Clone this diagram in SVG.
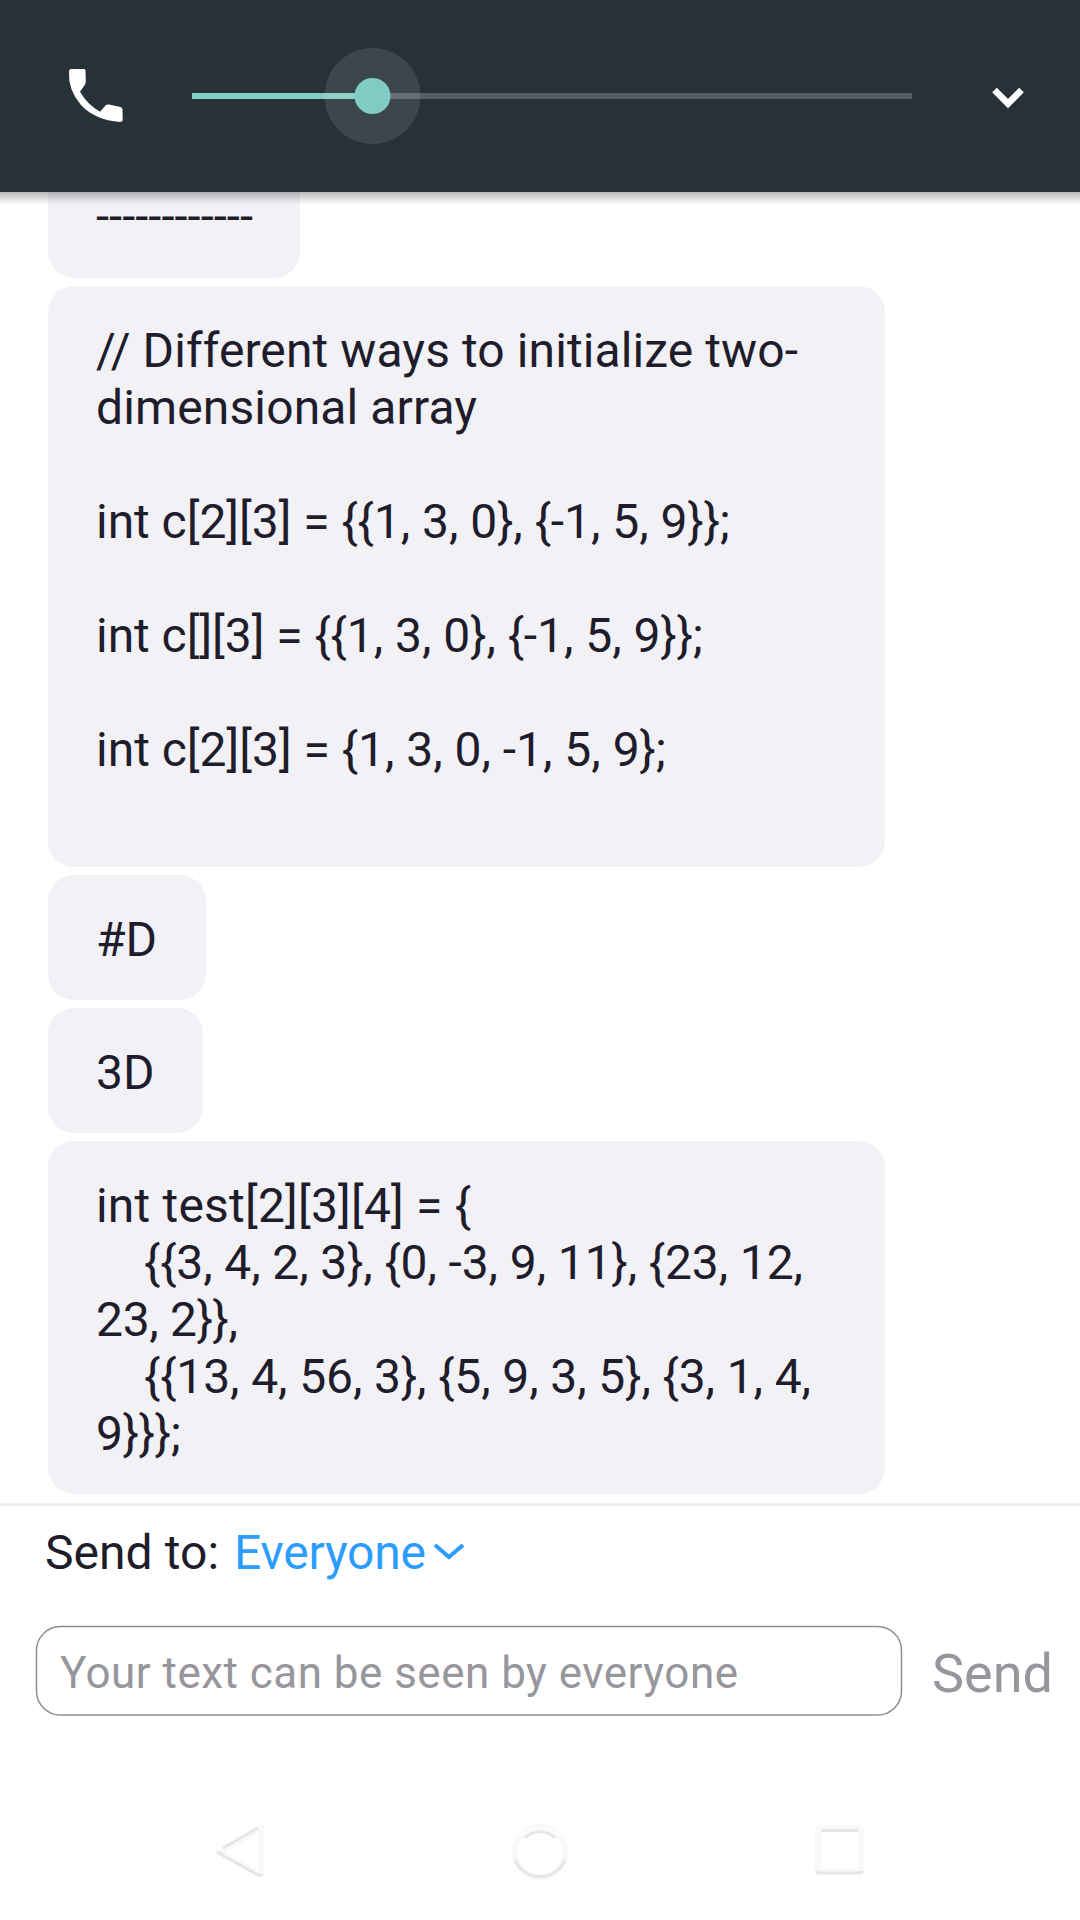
<svg xmlns="http://www.w3.org/2000/svg" width="1080" height="1920" viewBox="0 0 1080 1920">
<defs>
<linearGradient id="sh" x1="0" y1="0" x2="0" y2="1"><stop offset="0" stop-color="#000" stop-opacity=".28"/><stop offset="1" stop-color="#000" stop-opacity="0"/></linearGradient>
<filter id="soft" x="-10%" y="-10%" width="120%" height="120%"><feGaussianBlur stdDeviation="0.7"/></filter>
</defs>
<style>
.b{fill:#f2f1f6}
.t{font-family:Roboto,"Liberation Sans",sans-serif;font-size:48px;fill:#1f1d2b}
.u{font-family:Roboto,"Liberation Sans",sans-serif}
.f{fill:none;stroke:#f9f9f9;stroke-width:6}
.e{fill:none;stroke:#e6e6e8;stroke-width:3}
</style>
<rect width="1080" height="1920" fill="#fff"/>
<g id="bubble-1"><rect class="b" x="48" y="150" width="252" height="128" rx="26"/><text class="t" x="96" y="233" textLength="157" lengthAdjust="spacingAndGlyphs">------------</text></g>
<g id="bubble-2"><rect class="b" x="48" y="286" width="837" height="581" rx="26"/>
<text class="t" x="96" y="367" textLength="702">// Different ways to initialize two-</text>
<text class="t" x="96" y="424" textLength="381">dimensional array</text>
<text class="t" x="96" y="538" textLength="634">int c[2][3] = {{1, 3, 0}, {-1, 5, 9}};</text>
<text class="t" x="96" y="652" textLength="607">int c[][3] = {{1, 3, 0}, {-1, 5, 9}};</text>
<text class="t" x="96" y="766" textLength="570">int c[2][3] = {1, 3, 0, -1, 5, 9};</text></g>
<g id="bubble-3"><rect class="b" x="48" y="875" width="158" height="125" rx="26"/><text class="t" x="96" y="956">#D</text></g>
<g id="bubble-4"><rect class="b" x="48" y="1008" width="155" height="125" rx="26"/><text class="t" x="96" y="1089">3D</text></g>
<g id="bubble-5"><rect class="b" x="48" y="1141" width="837" height="353" rx="26"/>
<text class="t" x="96" y="1222" textLength="375">int test[2][3][4] = {</text>
<text class="t" x="144" y="1279" textLength="659">{{3, 4, 2, 3}, {0, -3, 9, 11}, {23, 12,</text>
<text class="t" x="96" y="1336" textLength="142">23, 2}},</text>
<text class="t" x="144" y="1393" textLength="667">{{13, 4, 56, 3}, {5, 9, 3, 5}, {3, 1, 4,</text>
<text class="t" x="96" y="1450" textLength="85">9}}};</text></g>
<g id="header">
<rect y="192" width="1080" height="12" fill="url(#sh)"/>
<rect width="1080" height="192" fill="#273238"/>
<path fill="#fff" d="M71 69 L84 69 Q85.500 69 85.500 71 L85.800 81 Q86 83.500 84 86 L80 91.700 Q87 104 100 111.700 L105.500 105.500 Q107 104 109 104.500 L120.500 107 Q122.500 107.500 122.500 109.500 L122.700 120 Q122.700 122 120 122 Q95 120 81 105 Q68 90 69 72 Q69 69 71 69Z"/>
<rect x="192" y="93" width="720" height="6" fill="#565f65"/>
<rect x="192" y="93" width="180" height="6" fill="#80cbc4"/>
<circle cx="372.500" cy="96" r="48" fill="#fff" fill-opacity=".1"/>
<circle cx="372.500" cy="96" r="18" fill="#80cbc4"/>
<path fill="none" stroke="#fff" stroke-width="6.500" d="M994.500 90 L1008 103.600 L1021.500 90"/>
</g>
<g id="send-bar">
<rect y="1503" width="1080" height="3" fill="#f0f0f2"/>
<text class="u" x="45" y="1569" font-size="48" fill="#1f1d2b" textLength="174">Send to:</text>
<text class="u" x="234" y="1569" font-size="48" fill="#2d9cff" textLength="192">Everyone</text>
<path fill="none" stroke="#2d9cff" stroke-width="4" d="M435 1545 L449 1557 L463 1545"/>
<rect x="36.500" y="1626.500" width="865" height="88.500" rx="24" fill="#fff" stroke="#8e8e96" stroke-width="1.500"/>
<text class="u" x="60" y="1688" font-size="44" fill="#96969c" textLength="678">Your text can be seen by everyone</text>
<text class="u" x="932" y="1692" font-size="54" fill="#96969c" textLength="121">Send</text>
</g>
<g id="nav" filter="url(#soft)">
<path class="f" d="M261 1828 L220 1852 L261 1875 Z" stroke-linejoin="round"/>
<path class="e" d="M223 1848 L258 1828"/>
<path class="e" d="M217 1852 L258 1875 Q261 1876 262 1874"/>
<circle class="f" cx="540" cy="1852" r="25"/>
<path class="e" d="M525 1838 A21 21 0 0 1 555 1838" stroke-width="1.500"/>
<path class="e" d="M515 1860 A27 27 0 0 0 565 1860" stroke-width="2"/>
<rect class="f" x="818" y="1828" width="43" height="43" rx="3"/>
<path class="e" d="M821 1830.500 L858 1830.500"/>
<path class="e" d="M816 1871 Q817 1873 820 1873 L859 1873 Q862 1873 863 1871" stroke="#e9e9eb"/>
</g>
</svg>
